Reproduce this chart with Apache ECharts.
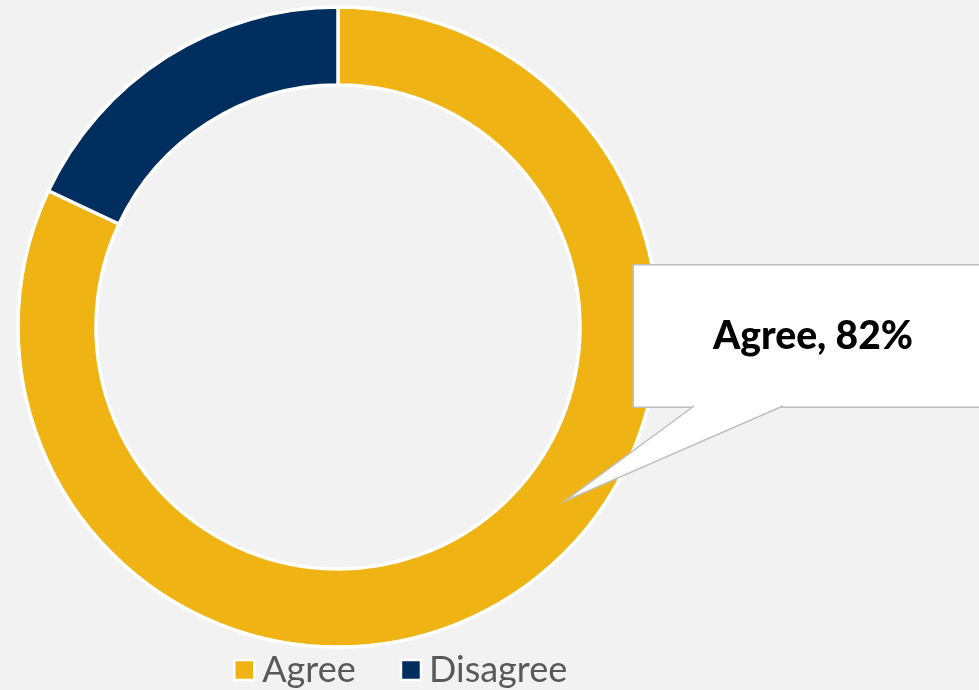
<!DOCTYPE html>
<html>
<head>
<meta charset="utf-8">
<script src="https://cdn.jsdelivr.net/npm/echarts@6/dist/echarts.min.js"></script>
<style>
html,body{margin:0;padding:0;background:#f2f2f2;}
#c{width:979px;height:690px;}
</style>
</head>
<body>
<div id="c"></div>
<script>
const categories = ['Agree', 'Disagree'];
const values = [82, 18];
const colors = ['#EFB414', '#002F5F'];

const chart = echarts.init(document.getElementById('c'));
const data = categories.map((name, i) => ({
  name: name,
  value: values[i],
  itemStyle: { color: colors[i] },
  label: { show: i === 0 }
}));

chart.setOption({
  backgroundColor: '#f2f2f2',
  animation: false,
  legend: {
    bottom: -3,
    left: 228,
    itemWidth: 20,
    itemHeight: 20,
    itemGap: 44,
    icon: 'rect',
    itemStyle: { borderColor: '#ffffff', borderWidth: 2.5 },
    textStyle: { fontFamily: 'Lato', fontSize: 36, color: '#595959', padding: [0, 0, 0, 3] },
    data: categories
  },
  graphic: [{
    type: 'polygon',
    z: 100,
    shape: { points: [[694, 406], [565, 501], [783, 406], [783, 403], [694, 403]] },
    style: { fill: '#ffffff', stroke: null }
  }, {
    type: 'polyline',
    z: 101,
    shape: { points: [[694, 406], [565, 501], [783, 406]] },
    style: { stroke: '#bfbfbf', lineWidth: 1.5, fill: null }
  }],
  series: [{
    type: 'pie',
    center: [338, 327],
    radius: [242, 320],
    startAngle: 90,
    clockwise: true,
    itemStyle: { borderColor: '#ffffff', borderWidth: 3.5 },
    label: {
      show: true,
      position: 'outside',
      formatter: '{b}, {c}%',
      fontFamily: 'Lato',
      fontWeight: 900,
      fontSize: 39,
      color: '#000000',
      backgroundColor: '#ffffff',
      borderColor: '#bfbfbf',
      borderWidth: 1.5,
      width: 358,
      height: 141,
      padding: 0,
      align: 'center',
      verticalAlign: 'middle'
    },
    labelLine: { show: false },
    labelLayout: { x: 813, y: 336, align: 'center', verticalAlign: 'middle' },
    emphasis: { disabled: true },
    data: data
  }]
});
</script>
</body>
</html>
